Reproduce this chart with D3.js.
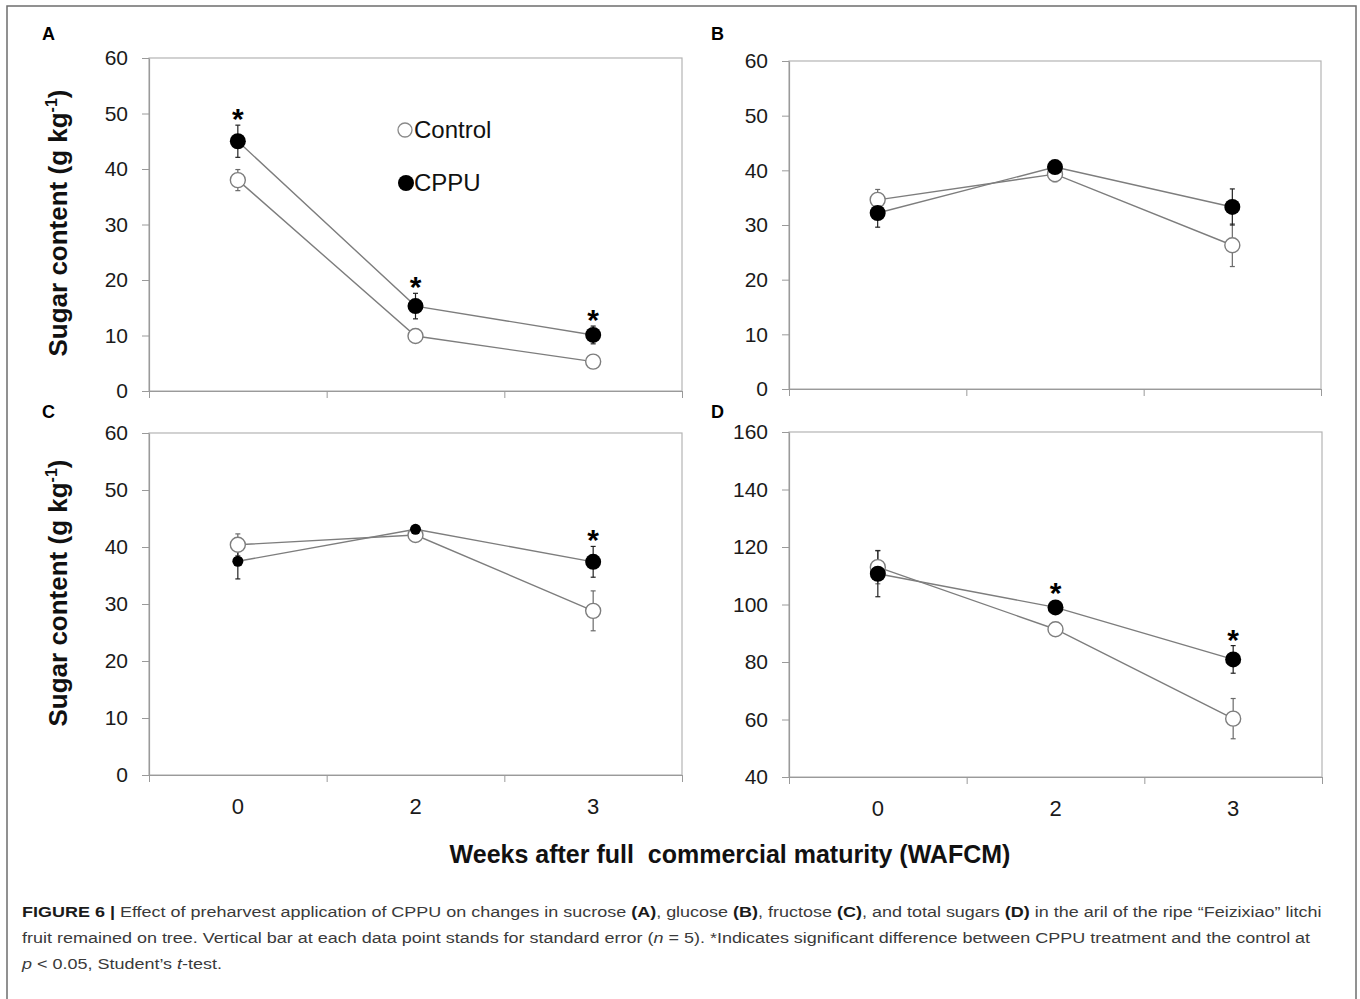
<!DOCTYPE html>
<html>
<head>
<meta charset="utf-8">
<script src="https://cdn.jsdelivr.net/npm/d3@7"></script>
<style>
  body { margin: 0; background: #fff; }
</style>
</head>
<body>
<svg width="1360" height="999"></svg>
<script>
// Categories (weeks after full commercial maturity)
var weeks = ["0", "2", "3"];

// (A) sucrose
var sucroseControl = [38.0, 9.9, 5.3];
var sucroseControlErr = [1.9, 0.6, 0.5];
var sucroseCPPU = [45.0, 15.3, 10.1];
var sucroseCPPUErr = [2.9, 2.3, 1.6];
var sucroseSig = [true, true, true];

// (B) glucose
var glucoseControl = [34.6, 39.3, 26.3];
var glucoseControlErr = [1.9, 1.4, 3.9];
var glucoseCPPU = [32.2, 40.6, 33.3];
var glucoseCPPUErr = [2.6, 0.8, 3.3];
var glucoseSig = [false, false, false];

// (C) fructose
var fructoseControl = [40.4, 42.1, 28.8];
var fructoseControlErr = [1.9, 0.6, 3.5];
var fructoseCPPU = [37.5, 43.1, 37.4];
var fructoseCPPUErr = [3.1, 0.3, 2.7];
var fructoseSig = [false, false, true];

// (D) total sugars
var totalControl = [113.0, 91.4, 60.3];
var totalControlErr = [5.8, 1.0, 7.0];
var totalCPPU = [110.7, 99.0, 80.9];
var totalCPPUErr = [8.0, 1.0, 4.8];
var totalSig = [false, true, true];

// tick labels
var ticks60 = [0, 10, 20, 30, 40, 50, 60];
var ticks160 = [40, 60, 80, 100, 120, 140, 160];

var seriesNames = ["Control", "CPPU"];

var svg = d3.select("svg");
var FONT = "'Liberation Sans', Arial, Helvetica, sans-serif";

// outer frame of the figure
svg.append("rect")
    .attr("x", 7).attr("y", 6)
    .attr("width", 1349).attr("height", 1010)
    .attr("fill", "none")
    .attr("stroke", "#6e6e6e")
    .attr("stroke-width", 1.5);

// panel layout
var panels = [
    { letter: "A", lx: 42, ly: 40, x0: 149, x1: 682, y0: 58, y1: 391, ticks: ticks60,
      control: sucroseControl, controlErr: sucroseControlErr, cppu: sucroseCPPU, cppuErr: sucroseCPPUErr, sig: sucroseSig,
      xLabels: false },
    { letter: "B", lx: 711, ly: 40, x0: 789, x1: 1321, y0: 61, y1: 389, ticks: ticks60,
      control: glucoseControl, controlErr: glucoseControlErr, cppu: glucoseCPPU, cppuErr: glucoseCPPUErr, sig: glucoseSig,
      xLabels: false },
    { letter: "C", lx: 42, ly: 418, x0: 149, x1: 682, y0: 433, y1: 775, ticks: ticks60,
      control: fructoseControl, controlErr: fructoseControlErr, cppu: fructoseCPPU, cppuErr: fructoseCPPUErr, sig: fructoseSig,
      xLabels: true, cppuR: [5.5, 5.5, 8] },
    { letter: "D", lx: 711, ly: 418, x0: 789, x1: 1322, y0: 432, y1: 777, ticks: ticks160,
      control: totalControl, controlErr: totalControlErr, cppu: totalCPPU, cppuErr: totalCPPUErr, sig: totalSig,
      xLabels: true }
];

panels.forEach(drawPanel);

function drawPanel(p) {
    var g = svg.append("g");

    var x = d3.scaleBand().domain(weeks).range([p.x0, p.x1]);
    var xb = d3.scaleLinear().domain([0, weeks.length]).range([p.x0, p.x1]);
    var y = d3.scaleLinear()
        .domain([p.ticks[0], p.ticks[p.ticks.length - 1]])
        .range([p.y1, p.y0]);
    var cx = function(d, i) { return x(weeks[i]) + x.bandwidth() / 2; };

    // panel letter
    g.append("text")
        .attr("x", p.lx).attr("y", p.ly)
        .attr("font-family", FONT).attr("font-weight", "bold").attr("font-size", 18)
        .text(p.letter);

    // plot frame
    g.append("rect")
        .attr("x", p.x0).attr("y", p.y0)
        .attr("width", p.x1 - p.x0).attr("height", p.y1 - p.y0)
        .attr("fill", "none")
        .attr("stroke", "#b4b4b4")
        .attr("stroke-width", 1.2);

    // y axis
    var ya = g.append("g")
        .attr("transform", "translate(" + p.x0 + ",0)")
        .call(d3.axisLeft(y).tickValues(p.ticks).tickSize(7).tickPadding(14).tickSizeOuter(0));
    ya.select(".domain").attr("stroke", "#9a9a9a").attr("stroke-width", 1.2);
    ya.selectAll(".tick line").attr("stroke", "#9a9a9a");
    ya.selectAll(".tick text")
        .attr("font-family", FONT).attr("font-size", 21).attr("fill", "#1a1a1a");

    // x axis: ticks between categories
    var xa = g.append("g")
        .attr("transform", "translate(0," + p.y1 + ")")
        .call(d3.axisBottom(xb).tickValues(d3.range(weeks.length + 1)).tickSize(7).tickFormat("").tickSizeOuter(0));
    xa.select(".domain").attr("stroke", "#9a9a9a").attr("stroke-width", 1.2);
    xa.selectAll(".tick line").attr("stroke", "#9a9a9a");

    if (p.xLabels) {
        g.selectAll(".xlab").data(weeks).enter().append("text")
            .attr("x", function(d) { return x(d) + x.bandwidth() / 2; })
            .attr("y", p.y1 + 39)
            .attr("text-anchor", "middle")
            .attr("font-family", FONT).attr("font-size", 22).attr("fill", "#1a1a1a")
            .text(function(d) { return d; });
    }

    var line = d3.line().x(cx).y(function(d) { return y(d); });

    [p.control, p.cppu].forEach(function(vals) {
        g.append("path")
            .attr("d", line(vals))
            .attr("fill", "none")
            .attr("stroke", "#7d7d7d")
            .attr("stroke-width", 1.4);
    });

    // error bars
    var bars = [
        { vals: p.control, err: p.controlErr, col: "#6a6a6a" },
        { vals: p.cppu, err: p.cppuErr, col: "#222" }
    ];
    bars.forEach(function(s) {
        var eb = g.append("g");
        s.vals.forEach(function(v, i) {
            var xc = cx(v, i);
            eb.append("line")
                .attr("x1", xc).attr("x2", xc)
                .attr("y1", y(v - s.err[i])).attr("y2", y(v + s.err[i]))
                .attr("stroke", s.col).attr("stroke-width", 1.2);
            [v - s.err[i], v + s.err[i]].forEach(function(e) {
                eb.append("line")
                    .attr("x1", xc - 2.5).attr("x2", xc + 2.5)
                    .attr("y1", y(e)).attr("y2", y(e))
                    .attr("stroke", s.col).attr("stroke-width", 1.2);
            });
        });
    });

    // markers
    g.selectAll(".ctl").data(p.control).enter().append("circle")
        .attr("cx", cx).attr("cy", function(d) { return y(d); })
        .attr("r", 7.5)
        .attr("fill", "#fff")
        .attr("stroke", "#7d7d7d")
        .attr("stroke-width", 1.4);

    g.selectAll(".cppu").data(p.cppu).enter().append("circle")
        .attr("cx", cx).attr("cy", function(d) { return y(d); })
        .attr("r", function(d, i) { return p.cppuR ? p.cppuR[i] : 8; })
        .attr("fill", "#000");

    // significance asterisks
    p.cppu.forEach(function(v, i) {
        if (!p.sig[i]) return;
        var r = p.cppuR ? p.cppuR[i] : 8;
        var top = Math.min(y(v + p.cppuErr[i]), y(v) - r);
        var centre = top - 13;
        g.append("text")
            .attr("x", cx(v, i)).attr("y", centre + 17)
            .attr("text-anchor", "middle")
            .attr("font-family", FONT).attr("font-weight", "bold").attr("font-size", 30)
            .text("*");
    });
}

// legend in panel A
var legend = svg.append("g").attr("font-family", FONT).attr("font-size", 24).attr("fill", "#111");
legend.append("circle").attr("cx", 405).attr("cy", 130).attr("r", 7)
    .attr("fill", "#fff").attr("stroke", "#8a8a8a").attr("stroke-width", 1.3);
legend.append("text").attr("x", 414).attr("y", 138).text(seriesNames[0]);
legend.append("circle").attr("cx", 406).attr("cy", 183).attr("r", 8).attr("fill", "#000");
legend.append("text").attr("x", 414).attr("y", 191).text(seriesNames[1]);

// y axis titles (A and C)
[223, 593].forEach(function(cy) {
    var t = svg.append("text")
        .attr("transform", "translate(67," + cy + ") rotate(-90)")
        .attr("text-anchor", "middle")
        .attr("font-family", FONT).attr("font-weight", "bold").attr("font-size", 26)
        .attr("fill", "#111");
    t.append("tspan").text("Sugar content (g kg");
    t.append("tspan").attr("font-size", 16).attr("dy", -10).text("-1");
    t.append("tspan").attr("dy", 10).text(")");
});

// x axis title
svg.append("text")
    .attr("x", 730).attr("y", 863)
    .attr("text-anchor", "middle")
    .style("white-space", "pre")
    .attr("font-family", FONT).attr("font-weight", "bold").attr("font-size", 25)
    .attr("fill", "#111")
    .text("Weeks after full  commercial maturity (WAFCM)");

// caption
var captionLines = [
    [["FIGURE 6 | ", "b"], ["Effect of preharvest application of CPPU on changes in sucrose ", ""], ["(A)", "b"],
     [", glucose ", ""], ["(B)", "b"], [", fructose ", ""], ["(C)", "b"], [", and total sugars ", ""], ["(D)", "b"],
     [" in the aril of the ripe \u201cFeizixiao\u201d litchi", ""]],
    [["fruit remained on tree. Vertical bar at each data point stands for standard error (", ""], ["n", "i"],
     [" = 5). *Indicates significant difference between CPPU treatment and the control at", ""]],
    [["p", "i"], [" < 0.05, Student\u2019s ", ""], ["t", "i"], ["-test.", ""]]
];
var captionY = [917, 943, 969];

var capTexts = captionLines.map(function(segs, k) {
    var t = svg.append("text")
        .attr("x", 0).attr("y", 0)
        .style("white-space", "pre")
        .attr("font-family", FONT).attr("font-size", 15)
        .attr("fill", "#3a3a3a");
    segs.forEach(function(s) {
        var ts = t.append("tspan").text(s[0]);
        if (s[1] === "b") ts.attr("font-weight", "bold").attr("fill", "#1a1a1a");
        if (s[1] === "i") ts.attr("font-style", "italic");
    });
    return t;
});

// the caption type is set wide: stretch so the first line spans the reference width
var sx = 1301 / capTexts[0].node().getComputedTextLength();
capTexts.forEach(function(t, k) {
    t.attr("transform", "translate(22," + captionY[k] + ") scale(" + sx + ",1)");
});
</script>
</body>
</html>
